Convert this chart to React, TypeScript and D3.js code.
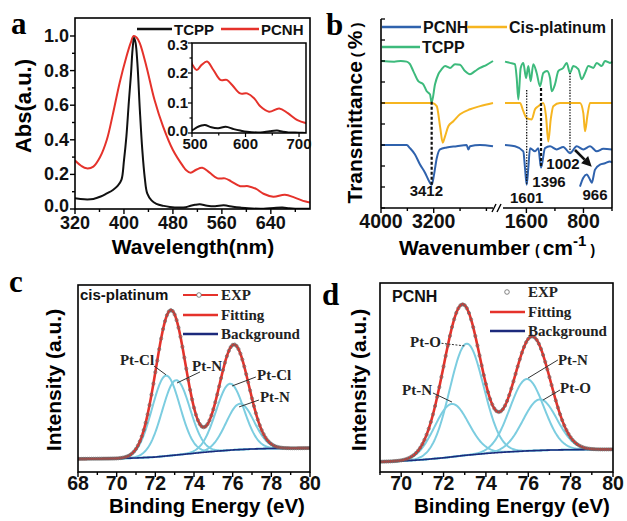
import React from "react";
import * as d3 from "d3";

type P = [number, number];

const SANS = "'Liberation Sans', Arial, Helvetica, sans-serif";
const SERIF = "'Liberation Serif', 'Times New Roman', serif";

const RED = "#e5322b";
const BLACK = "#111111";
const IR_BLUE = "#2f62ad";
const IR_YELLOW = "#f6b520";
const IR_GREEN = "#3dba7c";
const CYAN = "#7ccde0";
const NAVY = "#1c2a7c";

// ===================== Panel a : UV-vis =====================
const uvTCPP: P[] = [
  [320, 0.062], [335, 0.056], [350, 0.058], [362, 0.072], [372, 0.09], [382, 0.11], [390, 0.135],
  [396, 0.17], [400, 0.28], [404, 0.42], [408, 0.62], [411.5, 0.78], [414, 0.92], [416.5, 0.99],
  [419, 0.96], [422, 0.84], [426, 0.57], [430, 0.34], [434, 0.18], [438, 0.09], [445, 0.05],
  [453, 0.03], [465, 0.018], [475, 0.012], [490, 0.008], [501, 0.01], [509, 0.019], [516, 0.024],
  [524, 0.027], [536, 0.019], [549, 0.016], [563, 0.021], [578, 0.013], [590, 0.008], [603, 0.004],
  [628, 0.002], [645, 0.006], [659, 0.008], [670, 0.004], [680, 0.002], [700, 0.001], [715, 0.0],
];
const uvPCNH: P[] = [
  [320, 0.28], [330, 0.25], [339, 0.235], [350, 0.245], [361, 0.3], [372, 0.4], [382, 0.55],
  [393, 0.73], [404, 0.88], [411, 0.96], [416, 1.0], [421, 0.99], [426, 0.958], [437, 0.82],
  [450, 0.63], [464, 0.476], [480, 0.341], [497, 0.245], [501, 0.227], [509, 0.21], [518, 0.227],
  [528, 0.238], [540, 0.21], [553, 0.177], [565, 0.177], [575, 0.16], [590, 0.132], [603, 0.132],
  [616, 0.116], [628, 0.088], [644, 0.071], [663, 0.082], [679, 0.066], [697, 0.043], [715, 0.032],
];
const uvXTicks = [320, 400, 480, 560, 640];
const uvYTicks = [0, 0.2, 0.4, 0.6, 0.8, 1.0];
const insetXTicks = [500, 600, 700];
const insetYTicks = [0, 0.1, 0.2, 0.3];
const uvLegend = ["TCPP", "PCNH"];

// ===================== Panel b : FTIR =====================
const irLegend = ["PCNH", "Cis-platinum", "TCPP"];
const irOffsets = [3, 5, 7]; // PCNH, Cis-platinum, TCPP baselines
const irTcppHigh: P[] = [
  [4000, 100], [3800, 99], [3700, 100], [3610, 99], [3560, 95], [3510, 84], [3434, 68], [3358, 63],
  [3306, 52], [3256, 47], [3231, 34], [3180, 63], [3130, 79], [3079, 87], [3028, 92], [2953, 89],
  [2877, 95], [2801, 94], [2725, 84], [2649, 79], [2573, 84], [2497, 89], [2396, 94], [2300, 100],
];
const irTcppLow: P[] = [
  [1900, 99], [1830, 97], [1760, 95], [1736, 73], [1713, 39], [1680, 89], [1643, 97], [1605, 73],
  [1573, 92], [1540, 68], [1503, 95], [1456, 81], [1409, 60], [1363, 81], [1310, 84], [1269, 73],
  [1245, 52], [1199, 63], [1153, 84], [1083, 89], [1035, 97], [989, 81], [942, 92], [872, 87],
  [825, 71], [778, 81], [732, 92], [662, 89], [614, 97], [544, 92], [498, 100], [428, 97], [400, 99],
];
const irCisHigh: P[] = [
  [4000, 100], [3220, 100], [3154, 95], [3104, 63], [3063, 37], [3028, 47], [2978, 63], [2902, 71],
  [2801, 82], [2649, 90], [2497, 95], [2300, 100],
];
const irCisLow: P[] = [
  [1900, 100], [1690, 100], [1643, 87], [1596, 76], [1526, 74], [1479, 90], [1433, 95], [1363, 100],
  [1325, 79], [1293, 39], [1259, 74], [1223, 95], [1129, 100], [849, 100], [802, 84], [778, 55],
  [746, 79], [708, 100], [400, 100],
];
const irPcnhHigh: P[] = [
  [4000, 100], [3610, 100], [3560, 95], [3484, 85], [3408, 69], [3332, 56], [3282, 45], [3230, 37],
  [3195, 53], [3154, 79], [3104, 93], [3003, 96], [2851, 98], [2700, 100], [2674, 93], [2649, 98],
  [2497, 100], [2300, 98],
];
const irPcnhLow: P[] = [
  [1900, 100], [1760, 98], [1643, 90], [1620, 64], [1596, 37], [1573, 64], [1549, 95], [1479, 90],
  [1433, 95], [1395, 64], [1339, 95], [1269, 98], [1175, 93], [1083, 97], [989, 87], [895, 98],
  [802, 93], [708, 98], [614, 90], [521, 94], [400, 93],
];
const irPcnhZoom: P[] = [
  [849, 34], [802, 48], [755, 53], [708, 45], [684, 40], [638, 61], [568, 69], [498, 71], [428, 74], [400, 72],
];
const irHighTicks = [4000, 3600, 3200, 2800, 2400];
const irHighLabels = [4000, 3200];
const irLowTicks = [1600, 1200, 800, 400];
const irLowLabels = [1600, 800];
const irYTicks = d3.range(0, 10);
const irBands = [
  { label: "3412", seg: "high", wn: 3231, top: 5.06, bottom: 1.11, bold: true, labelWn: 3312, labelY: 0.55 },
  { label: "1601", seg: "low", wn: 1596, top: 5.62, bottom: 1.11, bold: false, labelWn: 1596, labelY: 0.22 },
  { label: "1396", seg: "low", wn: 1395, top: 5.71, bottom: 1.95, bold: true, labelWn: 1283, labelY: 1.0 },
  { label: "1002", seg: "low", wn: 989, top: 6.43, bottom: 2.68, bold: false, labelWn: 1087, labelY: 1.85 },
  { label: "966", seg: "low", wn: 0, top: 0, bottom: 0, bold: false, labelWn: 638, labelY: 0.4 },
];
const irArrowFrom: P = [919, 2.76];
const irArrowTo: P = [684, 1.97];

// ===================== Panels c, d : XPS Pt 4f =====================
const cisTicks = [68, 70, 72, 74, 76, 78, 80];
const cisCenters = [72.55, 73.07, 75.86, 76.38];
const cisHeights = [0.43, 0.4, 0.355, 0.245];
const cisSigma = 0.72;
const cisNames = ["Pt-Cl", "Pt-N", "Pt-Cl", "Pt-N"];
const cisBgE = [68, 70, 71, 72, 73, 74, 75, 76, 77, 78, 80];
const cisBgI = [0.07, 0.072, 0.075, 0.08, 0.09, 0.1, 0.11, 0.118, 0.123, 0.126, 0.128];
const cisLabelAt: P[] = [[70.17, 0.572], [73.9, 0.54], [77.26, 0.492], [77.41, 0.374]];
const cisLeadFrom: P[] = [[71.93, 0.567], [74.31, 0.535], [77.2, 0.508], [77.36, 0.385]];
const cisLeadTo: P[] = [[72.55, 0.52], [73.12, 0.476], [75.97, 0.46], [76.33, 0.348]];

const pcnhTicks = [70, 72, 74, 76, 78, 80];
const pcnhCenters = [72.38, 73.09, 75.93, 76.55];
const pcnhHeights = [0.28, 0.59, 0.38, 0.27];
const pcnhSigma = 0.8;
const pcnhNames = ["Pt-N", "Pt-O", "Pt-N", "Pt-O"];
const pcnhBgE = [69, 70, 71, 72, 73, 74, 75, 76, 77, 78, 80];
const pcnhBgI = [0.054, 0.058, 0.065, 0.075, 0.088, 0.098, 0.106, 0.112, 0.116, 0.118, 0.12];
const pcnhLabelAt: P[] = [[70.04, 0.407], [70.42, 0.661], [77.4, 0.566], [77.5, 0.418]];
const pcnhLeadFrom: P[] = [[71.5, 0.418], [71.74, 0.683], [77.4, 0.593], [77.5, 0.434]];
const pcnhLeadTo: P[] = [[72.4, 0.37], [73.01, 0.667], [75.99, 0.497], [76.7, 0.381]];
const pcnhLeadDashed = [false, true, false, false];

const xpsLegend = ["EXP", "Fitting", "Background"];

// ============================================================

function PanelA() {
  const L = 75, R = 310, T = 18, B = 209;
  const x = d3.scaleLinear().domain([320, 704]).range([L, R]);
  const y = d3.scaleLinear().domain([0, 1.104]).range([B, T]);
  const line = d3.line<P>().x((d) => x(d[0])).y((d) => y(d[1])).curve(d3.curveCatmullRom.alpha(0.5));
  const IL = 192, IR = 306, IT = 43, IB = 133;
  const xi = d3.scaleLinear().domain([500, 713]).range([IL, IR]);
  const yi = d3.scaleLinear().domain([0, 0.3]).range([IB, IT]);
  const linei = d3.line<P>().x((d) => xi(d[0])).y((d) => yi(d[1])).curve(d3.curveCatmullRom.alpha(0.5));
  const f1 = d3.format(".1f");
  const xMinor = d3.range(320, 705, 40);
  const yMinor = d3.range(0, 11).map((k) => k / 10);
  const xiMinor = d3.range(500, 714, 50);
  const yiMinor = d3.range(0, 7).map((k) => k * 0.05);
  return (
    <g>
      <defs>
        <clipPath id="clipA"><rect x={L} y={T} width={R - L} height={B - T} /></clipPath>
        <clipPath id="clipAi"><rect x={IL} y={IT} width={IR - IL} height={IB - IT} /></clipPath>
      </defs>
      <g clipPath="url(#clipA)" fill="none" strokeWidth={2}>
        <path d={line(uvPCNH) || ""} stroke={RED} />
        <path d={line(uvTCPP) || ""} stroke={BLACK} />
      </g>
      <rect x={L} y={T} width={R - L} height={B - T} fill="none" stroke="#000" strokeWidth={1.6} />
      {xMinor.map((v) => (
        <line key={"ax" + v} x1={x(v)} x2={x(v)} y1={B} y2={B + (uvXTicks.includes(v) ? 5 : 3)} stroke="#000" strokeWidth={1.4} />
      ))}
      {yMinor.map((v, k) => (
        <line key={"ay" + k} x1={L} x2={L - (k % 2 === 0 ? 5 : 3)} y1={y(v)} y2={y(v)} stroke="#000" strokeWidth={1.4} />
      ))}
      <g fontFamily={SANS} fontWeight="bold" fontSize={18} fill="#111">
        {uvXTicks.map((v) => (
          <text key={"axl" + v} x={x(v)} y={229} textAnchor="middle">{v}</text>
        ))}
        {uvYTicks.map((v) => (
          <text key={"ayl" + v} x={L - 6} y={y(v) - (v === 0 ? 3 : 0)} dy="0.33em" textAnchor="end">{f1(v)}</text>
        ))}
      </g>
      {/* inset */}
      <rect x={IL} y={IT} width={IR - IL} height={IB - IT} fill="#fff" />
      <g clipPath="url(#clipAi)" fill="none" strokeWidth={2}>
        <path d={linei(uvPCNH) || ""} stroke={RED} />
        <path d={linei(uvTCPP) || ""} stroke={BLACK} />
      </g>
      <rect x={IL} y={IT} width={IR - IL} height={IB - IT} fill="none" stroke="#000" strokeWidth={1.5} />
      {xiMinor.map((v) => (
        <line key={"ix" + v} x1={xi(v)} x2={xi(v)} y1={IB} y2={IB + (v % 100 === 0 ? 4 : 2.5)} stroke="#000" strokeWidth={1.2} />
      ))}
      {yiMinor.map((v, k) => (
        <line key={"iy" + k} x1={IL} x2={IL - (k % 2 === 0 ? 4 : 2.5)} y1={yi(v)} y2={yi(v)} stroke="#000" strokeWidth={1.2} />
      ))}
      <g fontFamily={SANS} fontWeight="bold" fontSize={15} fill="#111">
        {insetXTicks.map((v) => (
          <text key={"ixl" + v} x={xi(v) + (v === 500 ? 3 : 0)} y={149} textAnchor="middle">{v}</text>
        ))}
        {insetYTicks.map((v) => (
          <text key={"iyl" + v} x={IL - 4} y={yi(v) - (v === 0 ? 2 : 0) + (v === 0.3 ? 2 : 0)} dy="0.33em" textAnchor="end">{f1(v)}</text>
        ))}
      </g>
      {/* legend */}
      <g fontFamily={SANS} fontWeight="bold" fontSize={15} fill="#111">
        <line x1={137} x2={172} y1={29} y2={29} stroke={BLACK} strokeWidth={2.4} />
        <text x={174} y={34.5}>{uvLegend[0]}</text>
        <line x1={221} x2={259} y1={29} y2={29} stroke={RED} strokeWidth={2.4} />
        <text x={261} y={34.5}>{uvLegend[1]}</text>
      </g>
      <text x={11} y={34} fontFamily={SERIF} fontWeight="bold" fontSize={31}>a</text>
      <text transform="translate(31,106) rotate(-90)" textAnchor="middle" fontFamily={SANS} fontWeight="bold" fontSize={22}>Abs(a.u.)</text>
      <text x={193} y={254} textAnchor="middle" fontFamily={SANS} fontWeight="bold" fontSize={21}>Wavelength(nm)</text>
    </g>
  );
}

function PanelB() {
  const L = 381, R = 612, T = 19, B = 208;
  const BRK1 = 493, BRK2 = 505;
  const xh = d3.scaleLinear().domain([4000, 2300]).range([L, BRK1]);
  const xl = d3.scaleLinear().domain([1900, 400]).range([BRK2, R]);
  const y = d3.scaleLinear().domain([0, 9]).range([B, T]);
  const IR_SCALE = 0.03;
  const tr = (off: number, t: number) => off + (t - 100) * IR_SCALE;
  const mk = (xs: d3.ScaleLinear<number, number>, off: number) =>
    d3.line<P>().x((d) => xs(d[0])).y((d) => y(tr(off, d[1]))).curve(d3.curveMonotoneX);
  const colors = [IR_BLUE, IR_YELLOW, IR_GREEN];
  const highs = [irPcnhHigh, irCisHigh, irTcppHigh];
  const lows = [irPcnhLow, irCisLow, irTcppLow];

  const ax1 = xl(irArrowFrom[0]), ay1 = y(irArrowFrom[1]);
  const ax2 = xl(irArrowTo[0]), ay2 = y(irArrowTo[1]);
  const dx = ax2 - ax1, dy = ay2 - ay1;
  const len = Math.hypot(dx, dy);
  const ux = dx / len, uy = dy / len;
  const hl = 10, hw = 5;
  const bx = ax2 - ux * hl, by = ay2 - uy * hl;
  const head = `${ax2},${ay2} ${bx - uy * hw},${by + ux * hw} ${bx + uy * hw},${by - ux * hw}`;

  return (
    <g>
      <g fill="none" strokeWidth={2}>
        {[2, 1, 0].map((i) => (
          <g key={"s" + i}>
            <path d={mk(xh, irOffsets[i])(highs[i]) || ""} stroke={colors[i]} />
            <path d={mk(xl, irOffsets[i])(lows[i]) || ""} stroke={colors[i]} />
          </g>
        ))}
        <path d={mk(xl, irOffsets[0])(irPcnhZoom) || ""} stroke={IR_BLUE} />
      </g>
      {irBands.filter((b) => b.wn > 0).map((b) => {
        const xs = b.seg === "high" ? xh : xl;
        return (
          <line key={"bl" + b.label} x1={xs(b.wn)} x2={xs(b.wn)} y1={y(b.top)} y2={y(b.bottom)} stroke="#111"
            strokeWidth={b.bold ? 2.2 : 1.3} strokeDasharray={b.bold ? "3,2" : "1.4,1.4"} />
        );
      })}
      <line x1={ax1} y1={ay1} x2={bx} y2={by} stroke="#111" strokeWidth={2.6} />
      <polygon points={head} fill="#111" />
      <g fontFamily={SANS} fontWeight="bold" fontSize={15} fill="#111">
        {irBands.map((b) => {
          const xs = b.seg === "high" ? xh : xl;
          return <text key={"bt" + b.label} x={xs(b.labelWn)} y={y(b.labelY)} textAnchor="middle">{b.label}</text>;
        })}
      </g>
      {/* axes */}
      <line x1={L} x2={L} y1={T} y2={B} stroke="#000" strokeWidth={1.6} />
      <line x1={R} x2={R} y1={T} y2={B} stroke="#000" strokeWidth={1.6} />
      <line x1={L} x2={BRK1} y1={B} y2={B} stroke="#000" strokeWidth={1.6} />
      <line x1={BRK2 - 2} x2={R} y1={B} y2={B} stroke="#000" strokeWidth={1.6} />
      <line x1={BRK1 - 1} y1={B + 4} x2={BRK1 + 3} y2={B - 4} stroke="#000" strokeWidth={1.4} />
      <line x1={BRK1 + 4} y1={B + 4} x2={BRK1 + 8} y2={B - 4} stroke="#000" strokeWidth={1.4} />
      {irYTicks.map((v) => (
        <line key={"by" + v} x1={L} x2={L + 4} y1={y(v)} y2={y(v)} stroke="#000" strokeWidth={1.3} />
      ))}
      {irHighTicks.map((v) => (
        <line key={"bxh" + v} x1={xh(v)} x2={xh(v)} y1={B} y2={B + (irHighLabels.includes(v) ? 5 : 3)} stroke="#000" strokeWidth={1.4} />
      ))}
      {irLowTicks.map((v) => (
        <line key={"bxl" + v} x1={xl(v)} x2={xl(v)} y1={B} y2={B + (irLowLabels.includes(v) ? 5 : 3)} stroke="#000" strokeWidth={1.4} />
      ))}
      <g fontFamily={SANS} fontWeight="bold" fontSize={19.5} fill="#111">
        {irHighLabels.map((v) => <text key={"bhl" + v} x={xh(v)} y={228} textAnchor="middle">{v}</text>)}
        {irLowLabels.map((v) => <text key={"bll" + v} x={xl(v)} y={228} textAnchor="middle">{v}</text>)}
      </g>
      {/* legend */}
      <g fontFamily={SANS} fontWeight="bold" fontSize={16} fill="#111">
        <line x1={382} x2={421} y1={27} y2={27} stroke={IR_BLUE} strokeWidth={2.4} />
        <text x={423} y={33}>{irLegend[0]}</text>
        <line x1={467} x2={507} y1={27} y2={27} stroke={IR_YELLOW} strokeWidth={2.4} />
        <text x={509} y={33}>{irLegend[1]}</text>
        <line x1={382} x2={420} y1={47} y2={47} stroke={IR_GREEN} strokeWidth={2.4} />
        <text x={422} y={53}>{irLegend[2]}</text>
      </g>
      <text x={326} y={35} fontFamily={SERIF} fontWeight="bold" fontSize={31}>b</text>
      <text transform="translate(362,113) rotate(-90)" textAnchor="middle" fontFamily={SANS} fontWeight="bold" fontSize={21}>
        Transmittance<tspan fontSize={15} dx={4}>(</tspan><tspan dx={3}>%</tspan><tspan fontSize={15} dx={3}>)</tspan>
      </text>
      <text x={497} y={255} textAnchor="middle" fontFamily={SANS} fontWeight="bold" fontSize={21}>
        Wavenumber<tspan fontSize={14} dx={5}>(</tspan><tspan dx={3}>cm</tspan><tspan fontSize={15} dy={-9}>-1</tspan><tspan fontSize={14} dy={9} dx={4}>)</tspan>
      </text>
    </g>
  );
}

type XpsProps = {
  id: string;
  L: number; R: number; T: number; B: number;
  dom: [number, number];
  ticks: number[];
  centers: number[]; heights: number[]; sigma: number;
  bgE: number[]; bgI: number[];
  names: string[]; labelAt: P[]; leadFrom: P[]; leadTo: P[]; leadDashed: boolean[];
  letter: string; letterX: number; letterY: number;
  titleX: number; ylabX: number;
  sample: string; sampleX: number; sampleY: number; sampleSize: number;
  legX: number; legY: number[]; expLine: boolean; expCircleX: number;
};

function Xps(p: XpsProps) {
  const { L, R, T, B, dom } = p;
  const x = d3.scaleLinear().domain(dom).range([L, R]);
  const y = d3.scaleLinear().domain([0, 1]).range([B, T]);
  const bg = d3.scaleLinear().domain(p.bgE).range(p.bgI).clamp(true);
  const peak = (e: number, i: number) => p.heights[i] * Math.exp(-((e - p.centers[i]) ** 2) / (2 * p.sigma * p.sigma));
  const fit = (e: number) => bg(e) + d3.sum(p.centers, (_c, i) => peak(e, i));
  const grid = d3.range(dom[0], dom[1] + 1e-6, 0.04);
  const expE = d3.range(dom[0], dom[1] + 1e-6, 0.1);
  const minor = d3.range(Math.ceil(dom[0]), dom[1] + 0.001, 1);
  const compPath = (i: number) => d3.line<number>().x((e) => x(e)).y((e) => y(bg(e) + peak(e, i)))(grid) || "";
  const bgPath = d3.line<number>().x((e) => x(e)).y((e) => y(bg(e)))(grid) || "";
  const fitPath = d3.line<number>().x((e) => x(e)).y((e) => y(fit(e)))(grid) || "";
  return (
    <g>
      <defs>
        <clipPath id={p.id}><rect x={L} y={T} width={R - L} height={B - T} /></clipPath>
      </defs>
      <g clipPath={`url(#${p.id})`} fill="none">
        {p.centers.map((_c, i) => <path key={"c" + i} d={compPath(i)} stroke={CYAN} strokeWidth={2} />)}
        <path d={bgPath} stroke={NAVY} strokeWidth={1.6} />
        <path d={fitPath} stroke={RED} strokeWidth={2.6} />
        {expE.map((e, k) => <circle key={"e" + k} cx={x(e)} cy={y(fit(e))} r={1.6} stroke="#666" strokeWidth={0.7} fill="none" />)}
      </g>
      <rect x={L} y={T} width={R - L} height={B - T} fill="none" stroke="#000" strokeWidth={1.6} />
      {minor.map((v) => (
        <line key={"t" + v} x1={x(v)} x2={x(v)} y1={B} y2={B + (p.ticks.includes(v) ? 5 : 3)} stroke="#000" strokeWidth={1.4} />
      ))}
      <g fontFamily={SANS} fontWeight="bold" fontSize={19.5} fill="#111">
        {p.ticks.map((v) => <text key={"tl" + v} x={x(v)} y={490} textAnchor="middle">{v}</text>)}
      </g>
      {/* component labels */}
      {p.names.map((n, i) => (
        <g key={"n" + i}>
          <line x1={x(p.leadFrom[i][0])} y1={y(p.leadFrom[i][1])} x2={x(p.leadTo[i][0])} y2={y(p.leadTo[i][1])}
            stroke="#333" strokeWidth={1} strokeDasharray={p.leadDashed[i] ? "2,1.5" : undefined} />
          <text x={x(p.labelAt[i][0])} y={y(p.labelAt[i][1])} fontFamily={SERIF} fontWeight="bold" fontSize={15} fill="#222">{n}</text>
        </g>
      ))}
      {/* legend */}
      <g fontFamily={SERIF} fontWeight="bold" fontSize={15} fill="#222">
        {p.expLine && <line x1={p.legX - 38} x2={p.legX - 3} y1={p.legY[0] - 5} y2={p.legY[0] - 5} stroke={RED} strokeWidth={2.2} />}
        <circle cx={p.expCircleX} cy={p.legY[0] - 5} r={2.3} fill="#fff" stroke="#666" strokeWidth={0.8} />
        <text x={p.legX} y={p.legY[0]}>{xpsLegend[0]}</text>
        <line x1={p.legX - 38} x2={p.legX - 3} y1={p.legY[1] - 5} y2={p.legY[1] - 5} stroke={RED} strokeWidth={2.4} />
        <text x={p.legX} y={p.legY[1]}>{xpsLegend[1]}</text>
        <line x1={p.legX - 38} x2={p.legX - 3} y1={p.legY[2] - 5} y2={p.legY[2] - 5} stroke={NAVY} strokeWidth={2.4} />
        <text x={p.legX} y={p.legY[2]}>{xpsLegend[2]}</text>
      </g>
      <text x={p.sampleX} y={p.sampleY} fontFamily={SANS} fontWeight="bold" fontSize={p.sampleSize} fill="#111">{p.sample}</text>
      <text x={p.letterX} y={p.letterY} fontFamily={SERIF} fontWeight="bold" fontSize={31}>{p.letter}</text>
      <text transform={`translate(${p.ylabX},380) rotate(-90)`} textAnchor="middle" fontFamily={SANS} fontWeight="bold" fontSize={21}>Intensity (a.u.)</text>
      <text x={p.titleX} y={513} textAnchor="middle" fontFamily={SANS} fontWeight="bold" fontSize={20.5}>Binding Energy (eV)</text>
    </g>
  );
}

export default function App() {
  return (
    <div style={{ position: "absolute", left: 0, top: 0, width: 627, height: 521, background: "#fff" }}>
      <svg width={627} height={521} viewBox="0 0 627 521" style={{ display: "block" }}>
        <rect x={0} y={0} width={627} height={521} fill="#fff" />
        <PanelA />
        <PanelB />
        <Xps id="clipC" L={78} R={310} T={285} B={472} dom={[68, 80]} ticks={cisTicks}
          centers={cisCenters} heights={cisHeights} sigma={cisSigma} bgE={cisBgE} bgI={cisBgI}
          names={cisNames} labelAt={cisLabelAt} leadFrom={cisLeadFrom} leadTo={cisLeadTo} leadDashed={[false, false, false, false]}
          letter="c" letterX={9} letterY={292} titleX={207} ylabX={61}
          sample="cis-platinum" sampleX={80} sampleY={300} sampleSize={15}
          legX={221} legY={[300, 320, 339]} expLine={true} expCircleX={199} />
        <Xps id="clipD" L={380} R={613} T={283} B={472} dom={[69, 80]} ticks={pcnhTicks}
          centers={pcnhCenters} heights={pcnhHeights} sigma={pcnhSigma} bgE={pcnhBgE} bgI={pcnhBgI}
          names={pcnhNames} labelAt={pcnhLabelAt} leadFrom={pcnhLeadFrom} leadTo={pcnhLeadTo} leadDashed={pcnhLeadDashed}
          letter="d" letterX={322} letterY={305} titleX={512} ylabX={366}
          sample="PCNH" sampleX={392} sampleY={302} sampleSize={16}
          legX={528} legY={[297, 317, 336]} expLine={false} expCircleX={507} />
      </svg>
    </div>
  );
}
